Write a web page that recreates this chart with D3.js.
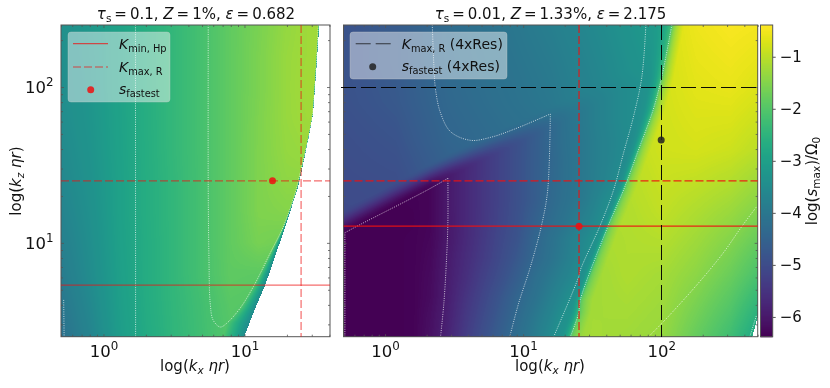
<!DOCTYPE html>
<html><head><meta charset="utf-8">
<script src="https://cdnjs.cloudflare.com/ajax/libs/d3/7.8.5/d3.min.js"></script>
<style>
html,body{margin:0;padding:0;background:#fff}
#root{position:relative;width:830px;height:388px;overflow:hidden;filter:blur(0.35px)}
canvas,svg{position:absolute;left:0;top:0}
text{font-family:"DejaVu Sans",sans-serif;fill:#111}
</style></head><body><div id="root"></div>
<script>
// ---------- DATA (log10 of kx and kz, and log10(s_max)/Omega0) ----------
const colorDomain = [-6.38, -0.39];
const colorTicks = [-1, -2, -3, -4, -5, -6];

// left panel surface: tau_s = 0.1
const leftLogKx = [-0.3, -0.1, 0.1, 0.3, 0.5, 0.7, 0.9, 1.1, 1.3, 1.45, 1.6];
const leftLogKz = [2.4, 2.2, 2.0, 1.8, 1.6, 1.4, 1.2, 1.0, 0.8, 0.6, 0.4];
const leftValues = [
 [-3.40,-3.20,-2.95,-2.65,-2.40,-2.15,-1.85,-1.60,-1.35,-1.25,-1.25],
 [-3.42,-3.22,-2.95,-2.65,-2.40,-2.15,-1.85,-1.58,-1.32,-1.25,-1.25],
 [-3.45,-3.25,-2.95,-2.65,-2.40,-2.15,-1.85,-1.58,-1.32,-1.22,-1.25],
 [-3.48,-3.27,-2.97,-2.66,-2.40,-2.15,-1.85,-1.56,-1.32,-1.25,-1.30],
 [-3.55,-3.30,-2.98,-2.67,-2.40,-2.15,-1.85,-1.55,-1.35,-1.30,-1.30],
 [-3.60,-3.35,-3.00,-2.68,-2.42,-2.15,-1.85,-1.55,-1.40,-1.40,-1.40],
 [-3.70,-3.40,-3.00,-2.68,-2.42,-2.15,-1.85,-1.55,-1.50,-1.50,-1.50],
 [-3.80,-3.45,-3.02,-2.70,-2.42,-2.15,-1.85,-1.62,-1.70,-1.70,-1.70],
 [-3.90,-3.50,-3.05,-2.70,-2.42,-2.15,-1.87,-1.90,-2.00,-2.00,-2.00],
 [-4.02,-3.60,-3.08,-2.72,-2.44,-2.20,-1.95,-2.00,-2.10,-2.10,-2.10],
 [-4.15,-3.70,-3.12,-2.75,-2.46,-2.22,-2.00,-2.10,-2.20,-2.20,-2.20]
];
const leftEdge = [[1.530,2.398],[1.513,2.154],[1.487,1.833],[1.452,1.660],[1.407,1.467],[1.374,1.339],[1.274,1.063],[1.147,0.729],[1.062,0.549],[0.998,0.397]];
const leftRampStart = [[1.523,2.398],[1.480,1.807],[1.395,1.448],[1.360,1.320],[1.274,1.101],[1.182,0.934],[1.069,0.729],[0.970,0.582],[0.875,0.485],[0.850,0.397]];
const leftEdgeValue = -3.5;
const leftContours = [
 [[0.227,2.398],[0.228,0.398]],
 [[-0.282,0.634],[-0.279,0.398]],
 [[0.743,2.398],[0.743,1.339],[0.748,0.909],[0.757,0.614],[0.778,0.504],[0.828,0.460],[0.875,0.485],[0.970,0.582],[1.069,0.729],[1.182,0.934],[1.274,1.101],[1.360,1.320],[1.395,1.448],[1.480,1.807],[1.523,2.398]]
];
const leftFastest = [15.8, 25];
const leftKminHp = 5.36, leftKmaxRz = 25, leftKmaxRx = 25.2;

// right panel: field below the diagonal wedge line
const rightLogKx = [-0.3,-0.175,-0.05,0.075,0.2,0.325,0.45,0.575,0.7,0.825,0.95,1.075,1.2,1.325,1.45,1.575,1.7,1.825,1.95,2.075];
const rightLogKz = [1.775,1.65,1.525,1.4,1.275,1.15,1.025,0.9,0.775,0.65,0.525,0.4];
const rightValues = [
 [-6.36,-6.36,-6.36,-6.36,-6.35,-6.30,-6.00,-5.72,-5.46,-5.20,-4.95,-4.70,-4.40,-4.10,-3.92,-3.72,-3.55,-3.42,-3.20,-2.90],
 [-6.36,-6.36,-6.36,-6.36,-6.35,-6.30,-6.00,-5.73,-5.46,-5.20,-4.93,-4.66,-4.38,-4.12,-3.95,-3.75,-3.58,-3.45,-3.20,-2.90],
 [-6.36,-6.36,-6.36,-6.36,-6.35,-6.30,-6.00,-5.73,-5.46,-5.18,-4.92,-4.65,-4.40,-4.15,-3.95,-3.75,-3.55,-3.40,-3.20,-2.90],
 [-6.36,-6.36,-6.36,-6.36,-6.35,-6.30,-5.98,-5.72,-5.45,-5.18,-4.92,-4.65,-4.38,-4.15,-3.95,-3.72,-3.45,-3.25,-3.10,-2.90],
 [-6.36,-6.36,-6.36,-6.36,-6.35,-6.30,-5.98,-5.72,-5.45,-5.18,-4.92,-4.66,-4.35,-4.12,-3.90,-3.55,-3.30,-3.10,-3.00,-2.90],
 [-6.36,-6.36,-6.36,-6.36,-6.36,-6.30,-6.00,-5.72,-5.44,-5.16,-4.90,-4.57,-4.28,-4.03,-3.75,-3.45,-3.20,-3.00,-2.90,-2.80],
 [-6.36,-6.36,-6.36,-6.36,-6.35,-6.28,-6.00,-5.70,-5.40,-5.10,-4.85,-4.45,-4.15,-3.85,-3.55,-3.20,-3.00,-2.90,-2.80,-2.70],
 [-6.36,-6.36,-6.36,-6.36,-6.35,-6.25,-5.95,-5.65,-5.35,-5.05,-4.75,-4.40,-4.10,-3.80,-3.45,-3.10,-2.90,-2.80,-2.70,-2.60],
 [-6.36,-6.36,-6.36,-6.36,-6.35,-6.22,-5.92,-5.60,-5.25,-4.95,-4.62,-4.25,-3.95,-3.65,-3.30,-3.00,-2.80,-2.70,-2.60,-2.50],
 [-6.36,-6.36,-6.36,-6.36,-6.35,-6.20,-5.90,-5.50,-5.15,-4.80,-4.45,-4.15,-3.80,-3.45,-3.10,-2.90,-2.70,-2.60,-2.50,-2.40],
 [-6.36,-6.36,-6.36,-6.36,-6.35,-6.15,-5.85,-5.42,-5.05,-4.70,-4.35,-4.00,-3.65,-3.25,-3.00,-2.80,-2.60,-2.50,-2.40,-2.30],
 [-6.36,-6.36,-6.36,-6.36,-6.35,-6.12,-5.80,-5.35,-4.95,-4.60,-4.25,-3.90,-3.50,-3.10,-2.90,-2.70,-2.50,-2.40,-2.30,-2.20]
];
// right panel: field above the diagonal wedge line
const upperLogKx = [-0.3,0.075,0.45,0.825,1.2,1.575,1.95,2.075];
const upperLogKz = [2.4,2.15,1.9,1.65,1.4,1.15];
const upperValues = [
 [-4.85,-4.68,-4.30,-4.08,-3.82,-3.50,-3.10,-2.90],
 [-4.85,-4.68,-4.33,-4.13,-3.91,-3.58,-3.20,-2.90],
 [-4.88,-4.73,-4.38,-4.19,-3.98,-3.65,-3.20,-2.90],
 [-4.95,-4.84,-4.45,-4.28,-4.15,-3.75,-3.20,-2.90],
 [-5.00,-4.95,-4.60,-4.40,-4.30,-3.72,-3.20,-2.90],
 [-5.05,-5.00,-4.70,-4.50,-4.30,-3.65,-3.10,-2.80]
];
const wedgeLine = [[-0.298,1.063],[0.453,1.416],[1.197,1.724],[2.715,2.398]];
const wedgeSoftness = 0.16;
// right panel surface, right of the steep front
const highLogKx = [1.25,1.5,1.75,2.0,2.25,2.5,2.72];
const highLogKz = [2.4,2.0,1.6,1.2,0.8,0.4];
const highValues = [
 [-0.85,-0.85,-0.85,-0.80,-0.55,-0.45,-0.50],
 [-0.90,-0.90,-0.90,-0.80,-0.65,-0.60,-0.72],
 [-1.00,-1.00,-1.00,-0.82,-0.78,-0.85,-1.02],
 [-1.15,-1.10,-1.10,-0.95,-1.12,-1.30,-1.55],
 [-1.30,-1.25,-1.12,-1.20,-1.42,-1.75,-2.15],
 [-1.45,-1.20,-1.25,-1.33,-1.80,-2.25,-2.90]
];
const frontStart = [[1.889,2.398],[1.860,2.066],[1.799,1.809],[1.727,1.576],[1.655,1.339],[1.559,1.114],[1.414,0.825],[1.402,0.782],[1.221,0.397]];
const frontEnd = [[2.077,2.398],[2.004,2.066],[1.941,1.852],[1.835,1.596],[1.727,1.339],[1.618,1.114],[1.414,0.633],[1.402,0.550],[1.342,0.397]];
const frontValue = -2.1;
const rightEdge = [[2.70,0.537],[2.655,0.397]];
const rightContours = [
 [[0.342,2.398],[0.354,2.130],[0.366,1.981],[0.402,1.833],[0.475,1.713],[0.619,1.658],[0.764,1.677],[0.932,1.728],[1.197,1.827]],
 [[1.197,1.827],[1.178,1.339],[1.137,1.127],[1.053,0.847],[0.968,0.614],[0.903,0.397]],
 [[-0.291,0.398],[-0.291,1.065]],
 [[-0.291,1.065],[-0.188,1.114],[0.306,1.339],[0.455,1.414]],
 [[0.455,1.414],[0.455,1.127],[0.446,0.911],[0.426,0.614],[0.402,0.398]],
 frontStart,
 frontEnd,
 [[1.908,0.398],[2.004,0.483],[2.257,0.729],[2.449,0.935],[2.582,1.103],[2.691,1.232]],
 [[2.642,0.398],[2.691,0.537]]
];
const rightFastest = [25.4, 12.8];
const rightKminHp = 12.8, rightKmaxRz = 25, rightKmaxRx = 25.4;
const res4xKmax = [100, 100];
const res4xFastest = [100, 45.7];
const xTicksLeft = [1, 10], xTicksRight = [1, 10, 100], yTicks = [10, 100];
const titleLeft = ["0.1", "1%", "0.682"], titleRight = ["0.01", "1.33%", "2.175"];

// ---------- HELPERS ----------
const W = 830, H = 388;
const yTop = 25, yBot = 336.7;
const yScale = d3.scaleLog().domain([2.5, 250]).range([yBot, yTop]);
const xLeft = d3.scaleLog().domain([0.5, 40.4]).range([61, 330]);
const xRight = d3.scaleLog().domain([0.5, 500]).range([343.5, 757.7]);
const color = d3.scaleSequential(d3.interpolateViridis).domain(colorDomain);
const lut = d3.range(601).map(i => d3.rgb(color(colorDomain[0] + (colorDomain[1]-colorDomain[0])*i/600)));
const lutIdx = d3.scaleLinear().domain(colorDomain).range([0,600]).clamp(true);
const wedgeAt = d3.scaleLinear().domain(wedgeLine.map(d=>d[0])).range(wedgeLine.map(d=>d[1]));

function bilinear(values, xs, ys, lx, ly){
  const asc = ys.slice().reverse();
  const i = Math.max(1, Math.min(xs.length-1, d3.bisectLeft(xs, lx)));
  const jr = Math.max(1, Math.min(asc.length-1, d3.bisectLeft(asc, ly)));
  const tx = Math.max(0, Math.min(1, (lx-xs[i-1])/(xs[i]-xs[i-1])));
  const ty = Math.max(0, Math.min(1, (ly-asc[jr-1])/(asc[jr]-asc[jr-1])));
  const r0 = asc.length-jr, r1 = r0-1;
  const a = values[r0][i-1]*(1-tx)+values[r0][i]*tx;
  const b = values[r1][i-1]*(1-tx)+values[r1][i]*tx;
  return a*(1-ty)+b*ty;
}
function curveAt(curve, ly){
  for(let k=1;k<curve.length;k++){
    if(ly>=curve[k][1]){
      const t=(ly-curve[k][1])/(curve[k-1][1]-curve[k][1]);
      return curve[k][0]+(curve[k-1][0]-curve[k][0])*t;
    }
  }
  return curve[curve.length-1][0];
}
function leftField(lx, ly){
  const e = curveAt(leftEdge, ly);
  if(lx > e) return null;
  const s = curveAt(leftRampStart, ly);
  if(lx <= s) return bilinear(leftValues, leftLogKx, leftLogKz, lx, ly);
  const v = bilinear(leftValues, leftLogKx, leftLogKz, s, ly);
  const t = e>s ? (lx-s)/(e-s) : 1;
  return v + (leftEdgeValue-v)*t;
}
function rightBase(lx, ly){
  const low = bilinear(rightValues, rightLogKx, rightLogKz, lx, ly);
  const d = (ly-wedgeAt(lx))/wedgeSoftness;
  if(d <= 0) return low;
  const up = bilinear(upperValues, upperLogKx, upperLogKz, lx, ly);
  if(d >= 1) return up;
  return low + (up-low)*d*d*(3-2*d);
}
function rightField(lx, ly){
  if(ly < rightEdge[0][1] && lx > curveAt(rightEdge, ly)) return null;
  const s = curveAt(frontStart, ly), e = curveAt(frontEnd, ly);
  if(lx <= s) return rightBase(lx, ly);
  if(lx <= e){
    const v = rightBase(s, ly);
    const t = (lx-s)/(e-s);
    return v + (frontValue-v)*t*t*t;
  }
  const w = 0.085, hi = bilinear(highValues, highLogKx, highLogKz, Math.max(lx, e+w), ly);
  return lx < e+w ? frontValue + (hi-frontValue)*Math.sqrt((lx-e)/w) : hi;
}
function paint(x, field){
  const [x0, x1] = x.range();
  const cw = Math.round(x1-x0), ch = Math.round(yBot-yTop);
  const cv = d3.select("#root").append("canvas")
    .attr("width", cw).attr("height", ch)
    .style("left", x0+"px").style("top", yTop+"px");
  const ctx = cv.node().getContext("2d");
  const img = ctx.createImageData(cw, ch);
  for(let py=0; py<ch; py++){
    const ly = Math.log10(yScale.invert(yTop+py+0.5));
    for(let px=0; px<cw; px++){
      const lx = Math.log10(x.invert(x0+px+0.5));
      const v = field(lx, ly), o = (py*cw+px)*4;
      if(v===null){ img.data[o+3]=0; continue; }
      const c = lut[Math.round(lutIdx(v))];
      img.data[o]=c.r; img.data[o+1]=c.g; img.data[o+2]=c.b; img.data[o+3]=255;
    }
  }
  ctx.putImageData(img,0,0);
}
paint(xLeft, leftField);
paint(xRight, rightField);

const svg = d3.select("#root").append("svg").attr("width",W).attr("height",H);
const spine = "#555";
const clipData = [["cl",xLeft],["cr",xRight]];
svg.append("defs").selectAll("clipPath").data(clipData).join("clipPath").attr("id",d=>d[0])
  .append("rect").attr("x",d=>d[1].range()[0]).attr("y",yTop).attr("width",d=>d[1].range()[1]-d[1].range()[0]).attr("height",yBot-yTop);

function minors(lo, hi){
  const out=[];
  for(let e=-1;e<4;e++) for(let m=2;m<10;m++){const v=m*10**e; if(v>=lo&&v<=hi) out.push(v);}
  return out;
}
function expLabel(sel, size){
  sel.each(function(d){
    const t=d3.select(this).text(null).style("font-size",size+"px");
    t.append("tspan").text("10");
    t.append("tspan").attr("dy",-size*0.42).style("font-size",(size*0.72)+"px").text(Math.round(Math.log10(d)));
  });
}
function contourLines(g, x, curves){
  const line=d3.line().x(d=>x(10**d[0])).y(d=>yScale(10**d[1])).curve(d3.curveCatmullRom.alpha(0.5));
  g.selectAll("path.ct").data(curves).join("path").attr("class","ct").attr("d",line)
   .attr("fill","none").attr("stroke","#fff").attr("stroke-opacity",0.72).attr("stroke-width",1).attr("stroke-dasharray","1 1.3");
}
function panel(x, clip, contours, xTicks, showY){
  const g=svg.append("g");
  const inner=g.append("g").attr("clip-path",`url(#${clip})`);
  contourLines(inner,x,contours);
  const [x0,x1]=x.range();
  g.append("rect").attr("x",x0).attr("y",yTop).attr("width",x1-x0).attr("height",yBot-yTop)
    .attr("fill","none").attr("stroke",spine).attr("stroke-width",1);
  const place=(axis,tr)=>{
    const a=g.append("g").attr("transform",tr).call(axis);
    a.select(".domain").remove();
    a.selectAll(".tick line").attr("stroke",spine).attr("stroke-width",0.8);
    return a;
  };
  const fmt=()=>"";
  const bm=place(d3.axisBottom(x).tickValues(xTicks).tickFormat(d=>d).tickSize(3).tickPadding(2),`translate(0,${yBot})`);
  bm.selectAll("text").attr("fill",null).call(expLabel,16.5).attr("dy","0.95em");
  bm.selectAll(".tick line").attr("y1",-2.5).attr("y2",0);
  place(d3.axisBottom(x).tickValues(minors(...x.domain())).tickFormat(fmt).tickSize(-2),`translate(0,${yBot})`);
  place(d3.axisTop(x).tickValues(xTicks).tickFormat(fmt).tickSize(-3),`translate(0,${yTop})`);
  place(d3.axisTop(x).tickValues(minors(...x.domain())).tickFormat(fmt).tickSize(-2),`translate(0,${yTop})`);
  const lm=place(d3.axisLeft(yScale).tickValues(yTicks).tickFormat(d=>d).tickSize(-3).tickPadding(7.5),`translate(${x0},0)`);
  if(showY){ lm.selectAll("text").attr("fill",null).call(expLabel,16.5).attr("text-anchor","end"); }
  else lm.selectAll("text").remove();
  place(d3.axisLeft(yScale).tickValues(minors(...yScale.domain())).tickFormat(fmt).tickSize(-2),`translate(${x0},0)`);
  place(d3.axisRight(yScale).tickValues(yTicks).tickFormat(fmt).tickSize(-3),`translate(${x1},0)`);
  place(d3.axisRight(yScale).tickValues(minors(...yScale.domain())).tickFormat(fmt).tickSize(-2),`translate(${x1},0)`);
  return {g,inner};
}
const L=panel(xLeft,"cl",leftContours,xTicksLeft,true);
const R=panel(xRight,"cr",rightContours,xTicksRight,false);

// reference lines
const red="#ee1111", black="#000";
function hline(g,x,kz,col,op,dash,w,ext=0){
  return g.append("line").attr("x1",x.range()[0]-ext).attr("x2",x.range()[1]+ext).attr("y1",yScale(kz)).attr("y2",yScale(kz))
   .attr("stroke",col).attr("stroke-opacity",op).attr("stroke-width",w).attr("stroke-dasharray",dash);
}
function vline(g,x,kx,col,op,dash,w){
  return g.append("line").attr("x1",x(kx)).attr("x2",x(kx)).attr("y1",yTop).attr("y2",yBot)
   .attr("stroke",col).attr("stroke-opacity",op).attr("stroke-width",w).attr("stroke-dasharray",dash);
}
const dash="8 3";
hline(L.g,xLeft,leftKminHp,red,0.62,null,1.2);
hline(L.g,xLeft,leftKmaxRz,red,0.62,dash,1.2);
vline(L.g,xLeft,leftKmaxRx,red,0.62,dash,1.2);
L.g.append("circle").attr("cx",xLeft(leftFastest[0])).attr("cy",yScale(leftFastest[1])).attr("r",3.5).attr("fill",red).attr("fill-opacity",.85);

hline(R.g,xRight,rightKminHp,red,0.9,null,1.2);
hline(R.g,xRight,rightKmaxRz,red,0.9,dash,1.2);
vline(R.g,xRight,rightKmaxRx,red,0.9,dash,1.2);
R.g.append("circle").attr("cx",xRight(rightFastest[0])).attr("cy",yScale(rightFastest[1])).attr("r",3.5).attr("fill",red).attr("fill-opacity",.85);
hline(R.g,xRight,res4xKmax[1],black,0.95,"15 5",1,3).attr("shape-rendering","crispEdges");
vline(R.g,xRight,res4xKmax[0],black,0.95,"15 5",1).attr("shape-rendering","crispEdges");
R.g.append("circle").attr("cx",xRight(res4xFastest[0])).attr("cy",yScale(res4xFastest[1])).attr("r",3.5).attr("fill","#222").attr("fill-opacity",.85);

// math text helper
function mathText(x,y,size,runs,anchor="start",rot=null){
  const t=svg.append("text").attr("x",x).attr("y",y).attr("text-anchor",anchor).style("font-size",size+"px");
  if(rot!==null) t.attr("transform",`rotate(${rot} ${x} ${y})`);
  let prev=0;
  runs.forEach(r=>{
    const o=r[1]||{}, sp=t.append("tspan").text(r[0]);
    sp.style("font-style",o.i?"italic":"normal");
    const dy=(o.sub?size*0.22:o.sup?-size*0.4:0);
    sp.attr("dy",dy-prev); prev=dy;
    if(o.sub||o.sup) sp.style("font-size",(size*0.7)+"px");
  });
  return t;
}
function title(cx,v){
  const eq="\u2009=\u2009";
  mathText(cx,19,15,[["τ",{i:1}],["s",{sub:1}],[eq+v[0]+", "],["Z",{i:1}],[eq+v[1]+", "],["ε",{i:1}],[eq+v[2]]],"middle");
}
title(196,titleLeft);
title(550.5,titleRight);

mathText(195,371,15,[["log("],["k",{i:1}],["x",{i:1,sub:1}],[" "],["ηr",{i:1}],[")"]],"middle");
mathText(550,371,15,[["log("],["k",{i:1}],["x",{i:1,sub:1}],[" "],["ηr",{i:1}],[")"]],"middle");
mathText(21,181,15,[["log("],["k",{i:1}],["z",{i:1,sub:1}],[" "],["ηr",{i:1}],[")"]],"middle",-90);
mathText(817,181,15,[["log("],["s",{i:1}],["max",{sub:1}],[")/Ω"],["0",{sub:1}]],"middle",-90);

// legends
function legendBox(x,y,w,h){
  svg.append("rect").attr("x",x).attr("y",y).attr("width",w).attr("height",h).attr("rx",3)
   .attr("fill","#fff").attr("fill-opacity",0.45).attr("stroke","#ccc").attr("stroke-opacity",.35);
}
legendBox(68,32,102,70);
svg.append("line").attr("x1",73).attr("x2",108).attr("y1",43.7).attr("y2",43.7).attr("stroke",red).attr("stroke-opacity",.7).attr("stroke-width",1.2);
svg.append("line").attr("x1",73).attr("x2",108).attr("y1",67).attr("y2",67).attr("stroke",red).attr("stroke-opacity",.7).attr("stroke-width",1.2).attr("stroke-dasharray",dash);
svg.append("circle").attr("cx",90.7).attr("cy",89.7).attr("r",3.5).attr("fill",red).attr("fill-opacity",.85);
mathText(119,49,14,[["K",{i:1}],["min, H",{sub:1}],["p",{sub:1}]]);
mathText(119,72,14,[["K",{i:1}],["max, R",{sub:1}]]);
mathText(119,94,14,[["s",{i:1}],["fastest",{sub:1}]]);

legendBox(350,32,157,47);
svg.append("line").attr("x1",355.7).attr("x2",390.7).attr("y1",43.7).attr("y2",43.7).attr("stroke","#111").attr("stroke-opacity",.75).attr("stroke-width",1.1).attr("stroke-dasharray","15 5");
svg.append("circle").attr("cx",372.7).attr("cy",66.7).attr("r",3.5).attr("fill","#222").attr("fill-opacity",.85);
mathText(401.7,49,14,[["K",{i:1}],["max, R",{sub:1}],[" (4xRes)"]]);
mathText(401.7,71,14,[["s",{i:1}],["fastest",{sub:1}],[" (4xRes)"]]);

// colorbar
const cbX=760.5, cbW=12.2;
const cbY=d3.scaleLinear().domain(colorDomain).range([yBot,yTop]);
const cbSteps=d3.range(Math.round(yBot-yTop)).map(i=>yTop+i);
svg.append("g").selectAll("rect").data(cbSteps).join("rect")
  .attr("x",cbX).attr("width",cbW).attr("y",d=>d).attr("height",1.3).attr("fill",d=>color(cbY.invert(d+0.5)));
svg.append("rect").attr("x",cbX).attr("y",yTop).attr("width",cbW).attr("height",yBot-yTop).attr("fill","none").attr("stroke",spine);
const cbAxis=svg.append("g").attr("transform",`translate(${cbX+cbW},0)`)
  .call(d3.axisRight(cbY).tickValues(colorTicks).tickSize(3).tickPadding(4).tickFormat(d=>"\u2212"+Math.abs(d)));
cbAxis.select(".domain").remove();
cbAxis.selectAll("line").attr("stroke",spine);
cbAxis.selectAll("text").attr("fill",null).style("font-size","15px");
</script></body></html>
